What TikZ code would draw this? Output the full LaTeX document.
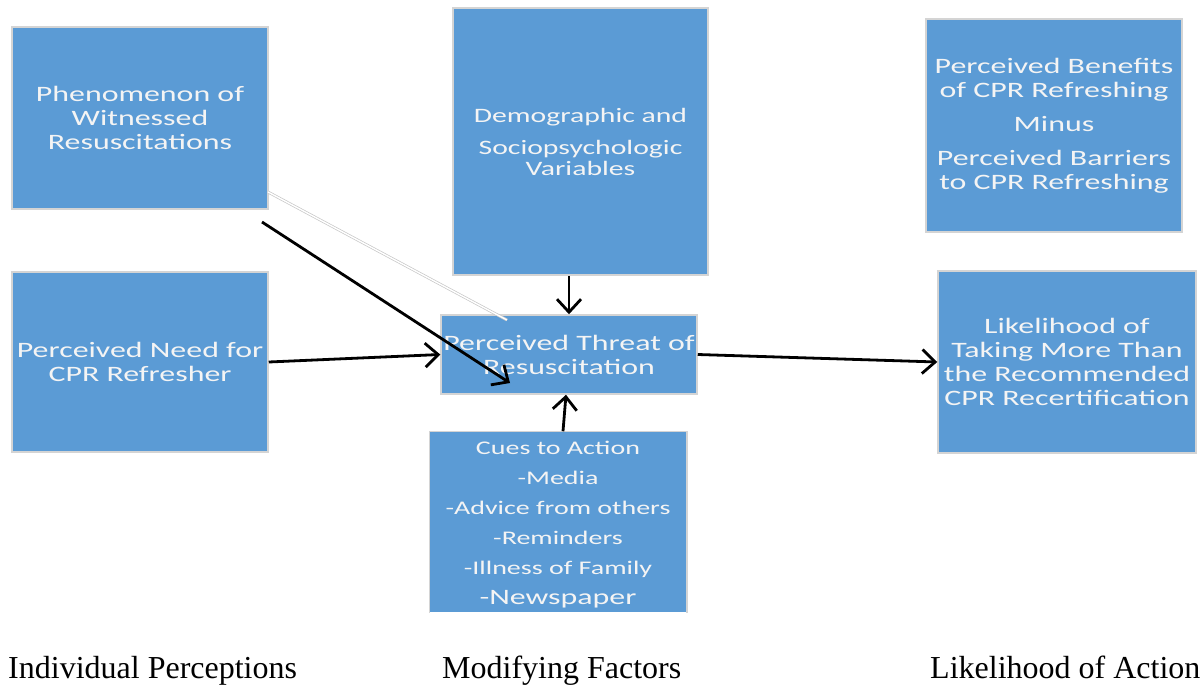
\documentclass[tikz,border=0pt]{standalone}
\usepackage{fontspec}
\setmainfont{Liberation Serif}
\newfontfamily\bxfont[FakeStretch=1.45]{Carlito}
\usetikzlibrary{arrows.meta}
\definecolor{boxblue}{HTML}{5B9BD5}
\definecolor{boxedge}{HTML}{D4D4D4}
\definecolor{txtwhite}{HTML}{F4F4F4}
\tikzset{
  box/.style={rectangle, fill=boxblue, draw=boxedge, line width=1.5pt, inner sep=0pt,
    text=txtwhite, align=center, font=\bxfont\fontsize{22}{24}\selectfont},
  conn/.style={line width=2.8pt, -{Straight Barb[length=13pt, width=24pt, line width=2.8pt]}},
  caption/.style={font=\fontsize{32}{36}\selectfont, anchor=base west, inner sep=0pt}
}
\begin{document}
\begin{tikzpicture}[x=1pt, y=-1pt]
\useasboundingbox (0,0) rectangle (1201,685);
% boxes
\node[box, minimum width=256pt, minimum height=182pt] (phen) at (140,118)
  {Phenomenon of\\Witnessed\\Resuscitations};
\node[box, minimum width=255pt, minimum height=267pt, font=\bxfont\fontsize{20.5}{22}\selectfont] (demo) at (580.5,141.5)
  {Demographic and\\[10pt]Sociopsychologic\\[-1pt]Variables};
\node[box, minimum width=256pt, minimum height=213pt] (bene) at (1054,125.5)
  {Perceived Benefits\\of CPR Refreshing\\[10pt]Minus\\[10pt]Perceived Barriers\\to CPR Refreshing};
\node[box, minimum width=256pt, minimum height=180pt] (need) at (140,362)
  {Perceived Need for\\CPR Refresher};
\node[box, minimum width=256pt, minimum height=79pt] (threat) at (569,354.5)
  {Perceived Threat of\\Resuscitation};
\node[box, draw=none, minimum width=256pt, minimum height=180pt] (cues) at (558,522) {};
\draw[boxedge, line width=1.5pt] (cues.south west) -- (cues.north west) -- (cues.north east) -- (cues.south east);
\node[text=txtwhite, align=center, inner sep=0pt, font=\bxfont\fontsize{19.3}{30}\selectfont] (cuest) at (558,525)
  {Cues to Action\\-Media\\-Advice from others\\-Reminders\\-Illness of Family\\{\fontsize{22}{30}\selectfont -Newspaper}};
\node[box, minimum width=258pt, minimum height=182pt] (like) at (1067,362)
  {Likelihood of\\Taking More Than\\the Recommended\\CPR Recertification};
% connectors
\coordinate (g1) at (268,192);
\coordinate (g2) at (507,320);
\draw[draw=black!22, line width=0.7pt, double=white, double distance=1.4pt] (g1) -- (g2);
\coordinate (d1) at (262,222);
\coordinate (d2) at (510,383);
\draw[conn] (d1) -- (d2);
\draw[conn] (need.east) -- (threat.west);
\draw[conn] (threat.north |- demo.south) -- (threat.north);
\draw[conn] ([xshift=5pt]cues.north) -- ([xshift=-3pt]threat.south);
\draw[conn] (threat.east) -- (like.west);
% captions
\node[caption] (c1) at (8,678) {Individual Perceptions};
\node[caption] (c2) at (442,678) {Modifying Factors};
\node[caption] (c3) at (930,678) {Likelihood of Action};
\end{tikzpicture}
\end{document}
